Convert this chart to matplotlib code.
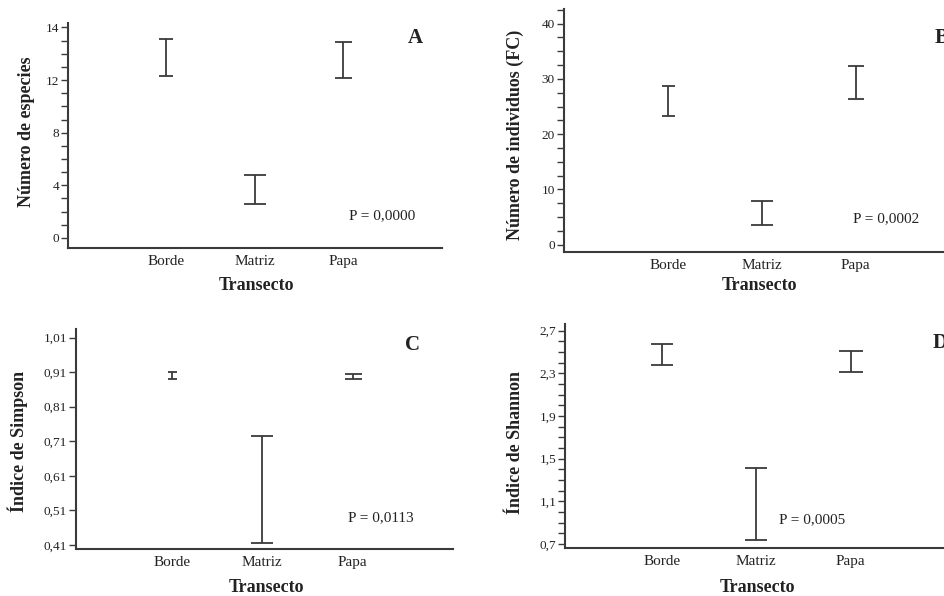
import matplotlib
matplotlib.use("Agg")
import matplotlib.pyplot as plt
from matplotlib.ticker import MultipleLocator

plt.rcParams['font.family'] = ['Liberation Serif', 'DejaVu Serif']

W, H = 944, 596
DPI = 100

### Data ###
transectos = ["Borde", "Matriz", "Papa"]

# panel A - numero de especies (low, high of each interval)
esp_low = [12.3, 2.6, 12.15]
esp_high = [15.1, 4.75, 14.85]
esp_ticks = [0, 4, 8, 12, 16]
esp_ticklabels = ["0", "4", "8", "12", "14"]

# panel B - numero de individuos (FC)
ind_low = [23.2, 3.5, 26.4]
ind_high = [28.8, 7.9, 32.4]
ind_ticks = [0, 10, 20, 30, 40]
ind_ticklabels = ["0", "10", "20", "30", "40"]

# panel C - indice de Simpson
simp_low = [0.889, 0.415, 0.889]
simp_high = [0.910, 0.725, 0.905]
simp_ticks = [0.41, 0.51, 0.61, 0.71, 0.81, 0.91, 1.01]
simp_ticklabels = ["0,41", "0,51", "0,61", "0,71", "0,81", "0,91", "1,01"]

# panel D - indice de Shannon
shan_low = [2.375, 0.741, 2.309]
shan_high = [2.578, 1.416, 2.513]
shan_ticks = [0.7, 1.1, 1.5, 1.9, 2.3, 2.7]
shan_ticklabels = ["0,7", "1,1", "1,5", "1,9", "2,3", "2,7"]

p_values = ["P = 0,0000", "P = 0,0002", "P = 0,0113", "P = 0,0005"]
panel_letters = ["A", "B", "C", "D"]
ylabels = ["Número de especies", "Número de individuos (FC)",
           "Índice de Simpson", "Índice de Shannon"]

LINE = "#3a3a3a"
TEXT = "#222222"


def px(x, y):
    # pixel position -> figure fraction
    return x / W, 1 - y / H


def box(left, top, right, bottom):
    return [left / W, 1 - bottom / H, (right - left) / W, (bottom - top) / H]


fig = plt.figure(figsize=(W / DPI, H / DPI), dpi=DPI)

panels = [
    # data, axes box, xlim, ylim, ticks, minor step, cap widths (px)
    dict(low=esp_low, high=esp_high, box=box(68, 23, 442, 248),
         xlim=(-0.1, 4.11), ylim=(-0.76, 16.33),
         ticks=esp_ticks, labels=esp_ticklabels, minor=1,
         caps=[14, 23, 17],
         ylab=(27, 132), xlab=(256, 286), ptxt=(382, 216), letter=(415, 38)),
    dict(low=ind_low, high=ind_high, box=box(563.7, 9.3, 960, 252),
         xlim=(-0.106, 4.11), ylim=(-1.33, 42.6),
         ticks=ind_ticks, labels=ind_ticklabels, minor=2.5,
         caps=[13, 23, 16],
         ylab=(515, 135), xlab=(759, 285), ptxt=(886, 219), letter=(942, 38)),
    dict(low=simp_low, high=simp_high, box=box(76, 329.3, 453, 549.3),
         xlim=(-0.06, 4.11), ylim=(0.3975, 1.034),
         ticks=simp_ticks, labels=simp_ticklabels, minor=None,
         caps=[9, 23, 17],
         ylab=(18, 441), xlab=(266, 587), ptxt=(381, 518), letter=(412, 345)),
    dict(low=shan_low, high=shan_high, box=box(565.3, 324.3, 960, 548.3),
         xlim=(-0.022, 4.16), ylim=(0.659, 2.76),
         ticks=shan_ticks, labels=shan_ticklabels, minor=0.1,
         caps=[23, 23, 24],
         ylab=(515, 442), xlab=(757, 587), ptxt=(812, 520), letter=(940, 343)),
]

for i, p in enumerate(panels):
    ax = fig.add_axes(p["box"])
    xs = [1, 2, 3]
    for x, lo, hi, cw in zip(xs, p["low"], p["high"], p["caps"]):
        mid = (lo + hi) / 2
        ax.errorbar([x], [mid], yerr=[[mid - lo], [hi - mid]], fmt="none",
                    ecolor=LINE, elinewidth=1.3, capthick=1.3,
                    capsize=cw / 2 * 72 / DPI)

    ax.set_xlim(*p["xlim"])
    ax.set_ylim(*p["ylim"])
    ax.set_xticks(xs)
    ax.set_xticklabels(transectos, fontsize=11, color=TEXT)
    ax.tick_params(axis="x", length=0, pad=5)
    ax.set_yticks(p["ticks"])
    ax.set_yticklabels(p["labels"], fontsize=9.5, color=TEXT)
    if p["minor"]:
        ax.yaxis.set_minor_locator(MultipleLocator(p["minor"]))
    ax.tick_params(axis="y", which="both", length=5, width=1.0,
                   color=LINE, pad=1.5)

    for s in ["top", "right"]:
        ax.spines[s].set_visible(False)
    for s in ["left", "bottom"]:
        ax.spines[s].set_color(LINE)
        ax.spines[s].set_linewidth(1.5)

    fig.text(*px(*p["ylab"]), ylabels[i], rotation=90, ha="center",
             va="center", fontsize=13, fontweight="bold", color=TEXT)
    fig.text(*px(*p["xlab"]), "Transecto", ha="center", va="center",
             fontsize=13, fontweight="bold", color=TEXT)
    fig.text(*px(*p["ptxt"]), p_values[i], ha="center", va="center",
             fontsize=11, color=TEXT)
    fig.text(*px(*p["letter"]), panel_letters[i], ha="center", va="center",
             fontsize=15, fontweight="bold", color=TEXT)

plt.savefig("out.png", dpi=DPI)
